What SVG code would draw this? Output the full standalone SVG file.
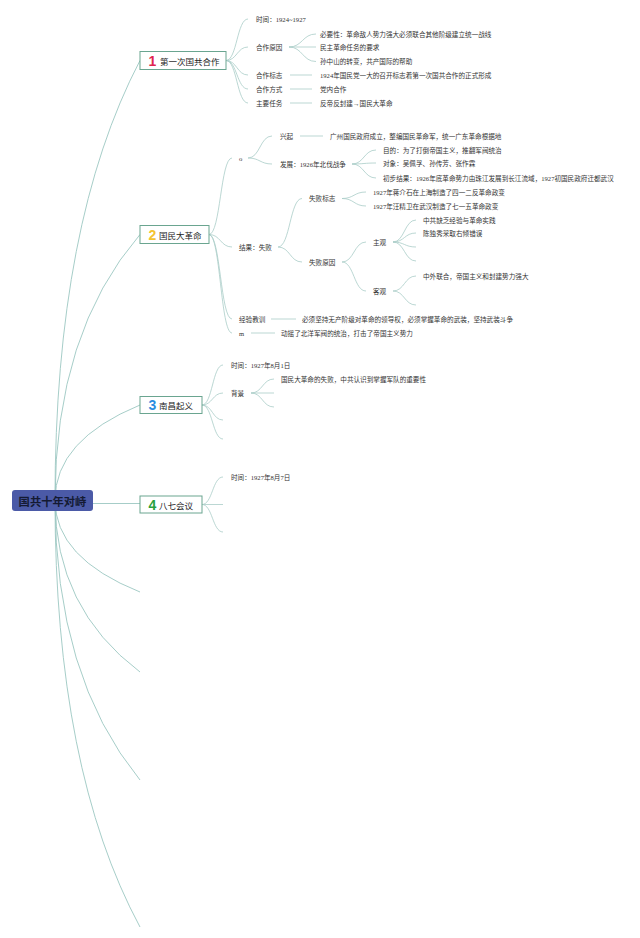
<svg xmlns="http://www.w3.org/2000/svg" width="640" height="938" viewBox="0 0 640 938">
<style>
.c{fill:none;stroke:#a9cdc8;stroke-width:0.8}
.r{fill:none;stroke:#9cc7c2;stroke-width:0.9}
.t{font-family:"Liberation Serif","Noto Sans CJK SC",serif;font-size:6.6px;fill:#333;dominant-baseline:central}
.box{fill:#fff;stroke:#6aa590;stroke-width:1}
.nt{font-family:"Noto Sans CJK SC",sans-serif;font-size:8.5px;fill:#222;dominant-baseline:central}
.num{font-family:"Liberation Sans",sans-serif;font-weight:bold;font-size:14px;dominant-baseline:central;text-anchor:middle}
</style>
<rect width="640" height="938" fill="#fff"/>
<g id="connectors">
<!-- root curves -->
<path class="r" d="M55,500 Q55,223 140,60.5"/>
<path class="r" d="M55,500 Q55,333 140,234.5"/>
<path class="r" d="M55,500 Q55,440 140,405"/>
<path class="r" d="M93,503.5 L140,503.5"/>
<path class="r" d="M55,500 Q55,558 140,592"/>
<path class="r" d="M55,500 Q55,608 140,672"/>
<path class="r" d="M55,500 Q55,676 140,780"/>
<path class="r" d="M55,500 Q55,769 140,927"/>
<!-- node 1 -->
<path class="c" d="M226,60.5 C237,60.5 237,19 248,19"/>
<path class="c" d="M226,60.5 C237,60.5 237,47 248,47"/>
<path class="c" d="M226,60.5 C237,60.5 237,75 248,75"/>
<path class="c" d="M226,60.5 C237,60.5 237,89 248,89"/>
<path class="c" d="M226,60.5 C237,60.5 237,103 248,103"/>
<path class="c" d="M289,47 C302.5,47 302.5,34 316,34"/>
<path class="c" d="M289,47 L316,47"/>
<path class="c" d="M289,47 C302.5,47 302.5,61.5 316,61.5"/>
<path class="c" d="M290,75 L312,75"/>
<path class="c" d="M290,89 L312,89"/>
<path class="c" d="M290,103 L312,103"/>
<!-- node 2 -->
<path class="c" d="M209,234.5 C220.5,234.5 220.5,158 232,158"/>
<path class="c" d="M209,234.5 C220.5,234.5 220.5,247 232,247"/>
<path class="c" d="M209,234.5 C220.5,234.5 220.5,319 232,319"/>
<path class="c" d="M209,234.5 C220.5,234.5 220.5,333 232,333"/>
<path class="c" d="M248,158 C260,158 260,136 272,136"/>
<path class="c" d="M248,158 C260,158 260,164 272,164"/>
<path class="c" d="M300,136 L323,136"/>
<path class="c" d="M352,164 C364,164 364,150 376,150"/>
<path class="c" d="M352,164 C364,164 364,163 376,163"/>
<path class="c" d="M352,164 C364,164 364,178 376,178"/>
<path class="c" d="M278,247 C290,247 290,198.5 302,198.5"/>
<path class="c" d="M278,247 C290,247 290,262 302,262"/>
<path class="c" d="M342,198.5 C354,198.5 354,192 366,192"/>
<path class="c" d="M342,198.5 C354,198.5 354,206 366,206"/>
<path class="c" d="M342,262 C354,262 354,242 366,242"/>
<path class="c" d="M342,262 C354,262 354,291 366,291"/>
<path class="c" d="M393,242 C404.5,242 404.5,220 416,220"/>
<path class="c" d="M393,242 C404.5,242 404.5,233 416,233"/>
<path class="c" d="M393,242 C404.5,242 404.5,247 416,247"/>
<path class="c" d="M393,242 C404.5,242 404.5,261 416,261"/>
<path class="c" d="M393,291 C404.5,291 404.5,276 416,276"/>
<path class="c" d="M393,291 C404.5,291 404.5,305 416,305"/>
<path class="c" d="M271,319 L296,319"/>
<path class="c" d="M251,333 L275,333"/>
<!-- node 3 -->
<path class="c" d="M202,405 C212.5,405 212.5,365 223,365"/>
<path class="c" d="M202,405 C212.5,405 212.5,393 223,393"/>
<path class="c" d="M202,405 C212.5,405 212.5,420 223,420"/>
<path class="c" d="M202,405 C212.5,405 212.5,439 223,439"/>
<path class="c" d="M251,393 C262.5,393 262.5,379 274,379"/>
<path class="c" d="M251,393 L274,393"/>
<path class="c" d="M251,393 C262.5,393 262.5,407 274,407"/>
<!-- node 4 -->
<path class="c" d="M202,504.5 C212.5,504.5 212.5,477 223,477"/>
<path class="c" d="M202,504.5 L223,504.5"/>
<path class="c" d="M202,504.5 C212.5,504.5 212.5,532 223,532"/>
</g>
<g id="root">
<rect x="12" y="490" width="81" height="21" rx="3" fill="#4b5aa7"/>
<text x="52.5" y="500.5" font-family="Noto Sans CJK SC,sans-serif" font-size="11.3" font-weight="bold" fill="#141a33" text-anchor="middle" dominant-baseline="central">国共十年对峙</text>
</g>
<g id="node1">
<rect class="box" x="140" y="51.5" width="86" height="18"/>
<text class="num" x="152.5" y="60.5" fill="#e0244f">1</text>
<text class="nt" x="160" y="60.5">第一次国共合作</text>
</g>
<g id="node1-children">
<text class="t" x="256" y="19">时间：1924~1927</text>
<text class="t" x="256" y="47">合作原因</text>
<text class="t" x="256" y="75">合作标志</text>
<text class="t" x="256" y="89">合作方式</text>
<text class="t" x="256" y="103">主要任务</text>
<text class="t" x="320" y="34">必要性：革命敌人势力强大必须联合其他阶级建立统一战线</text>
<text class="t" x="320" y="47">民主革命任务的要求</text>
<text class="t" x="320" y="61.5">孙中山的转变，共产国际的帮助</text>
<text class="t" x="320" y="75">1924年国民党一大的召开标志着第一次国共合作的正式形成</text>
<text class="t" x="320" y="89">党内合作</text>
<text class="t" x="320" y="103">反帝反封建→国民大革命</text>
</g>
<g id="node2">
<rect class="box" x="140" y="225.5" width="69" height="18"/>
<text class="num" x="152.5" y="234.5" fill="#f4c430">2</text>
<text class="nt" x="159" y="234.5">国民大革命</text>
</g>
<g id="node2-children">
<text class="t" x="239" y="158">o</text>
<text class="t" x="239" y="247">结果：失败</text>
<text class="t" x="239" y="319">经验教训</text>
<text class="t" x="239" y="333">m</text>
<text class="t" x="280" y="136">兴起</text>
<text class="t" x="280" y="164">发展：1926年北伐战争</text>
<text class="t" x="330" y="136">广州国民政府成立，整编国民革命军，统一广东革命根据地</text>
<text class="t" x="383" y="150">目的：为了打倒帝国主义，推翻军阀统治</text>
<text class="t" x="383" y="163">对象：吴佩孚、孙传芳、张作霖</text>
<text class="t" x="383" y="178">初步结果：1926年底革命势力由珠江发展到长江流域，1927初国民政府迁都武汉</text>
<text class="t" x="309" y="198.5">失败标志</text>
<text class="t" x="309" y="262">失败原因</text>
<text class="t" x="373" y="192">1927年蒋介石在上海制造了四一二反革命政变</text>
<text class="t" x="373" y="206">1927年汪精卫在武汉制造了七一五革命政变</text>
<text class="t" x="373" y="242">主观</text>
<text class="t" x="373" y="291">客观</text>
<text class="t" x="423" y="220">中共缺乏经验与革命实践</text>
<text class="t" x="423" y="233">陈独秀采取右倾错误</text>
<text class="t" x="423" y="276">中外联合，帝国主义和封建势力强大</text>
<text class="t" x="302" y="319">必须坚持无产阶级对革命的领导权，必须掌握革命的武装，坚持武装斗争</text>
<text class="t" x="281" y="333">动摇了北洋军阀的统治，打击了帝国主义势力</text>
</g>
<g id="node3">
<rect class="box" x="140" y="396.5" width="62" height="17"/>
<text class="num" x="152.5" y="405" fill="#2a8de0">3</text>
<text class="nt" x="159" y="405">南昌起义</text>
</g>
<g id="node3-children">
<text class="t" x="231" y="365">时间：1927年8月1日</text>
<text class="t" x="231" y="393">背景</text>
<text class="t" x="281" y="379">国民大革命的失败，中共认识到掌握军队的重要性</text>
</g>
<g id="node4">
<rect class="box" x="140" y="496" width="62" height="17"/>
<text class="num" x="152.5" y="504.5" fill="#28a03c">4</text>
<text class="nt" x="159" y="504.5">八七会议</text>
</g>
<g id="node4-children">
<text class="t" x="231" y="477">时间：1927年8月7日</text>
</g>
</svg>
